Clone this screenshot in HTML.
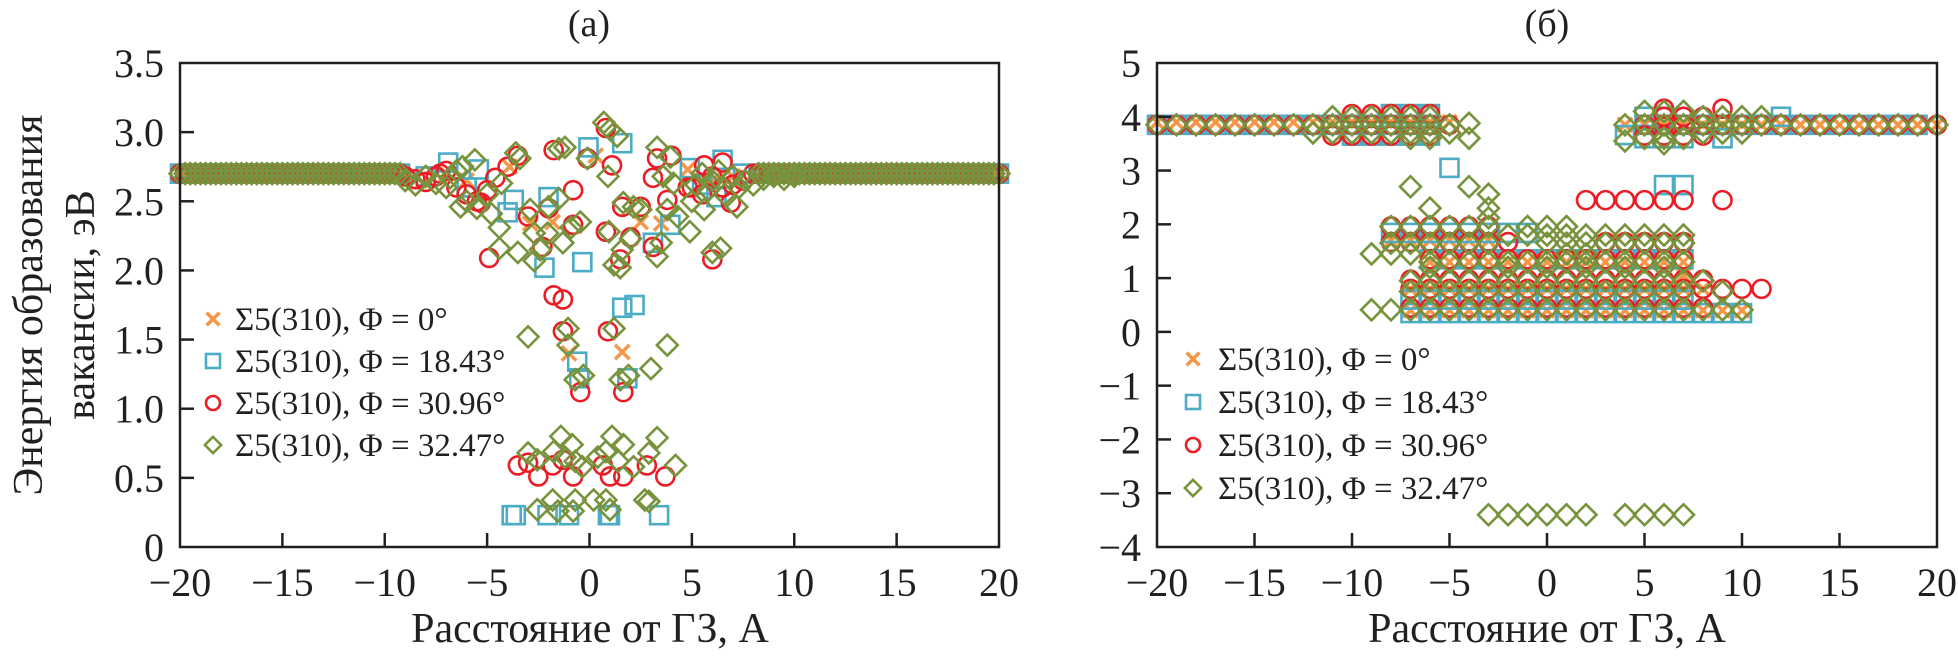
<!DOCTYPE html>
<html><head><meta charset="utf-8"><style>
html,body{margin:0;padding:0;background:#fff;}
svg{display:block;font-family:"Liberation Serif",serif;}
</style></head><body>
<svg id="chart" width="1958" height="656" viewBox="0 0 1958 656" xmlns="http://www.w3.org/2000/svg">
<g id="marksA"></g>
<g id="marksB"></g>
<rect x="180" y="63" width="819" height="484" fill="none" stroke="#231f20" stroke-width="2.5"/>
<rect x="1157" y="63" width="780" height="484" fill="none" stroke="#231f20" stroke-width="2.5"/>
<g id="axes" fill="#231f20" font-size="40"></g>
<text x="589" y="36" font-size="38" text-anchor="middle" fill="#231f20">(a)</text>
<text x="1547" y="36" font-size="38" text-anchor="middle" fill="#231f20">(б)</text>
<text x="590" y="642" font-size="42" text-anchor="middle" fill="#231f20">Расстояние от ГЗ, А</text>
<text x="1547" y="642" font-size="42" text-anchor="middle" fill="#231f20">Расстояние от ГЗ, А</text>
<text transform="translate(42,305) rotate(-90)" font-size="42" text-anchor="middle" fill="#231f20">Энергия образования</text>
<text transform="translate(94,305) rotate(-90)" font-size="42" text-anchor="middle" fill="#231f20">вакансии, эВ</text>
<g id="legends" font-size="33" fill="#231f20"></g>
</svg>
<script>
const aTicksY = ["0","0.5","1.0","1.5","2.0","2.5","3.0","3.5"];
const aTickYVals = [0,0.5,1,1.5,2,2.5,3,3.5];
const xTickVals = [-20,-15,-10,-5,0,5,10,15,20];
const xTickLabels = ["\u221220","\u221215","\u221210","\u22125","0","5","10","15","20"];
const bTickYVals = [-4,-3,-2,-1,0,1,2,3,4,5];
const bTicksY = ["\u22124","\u22123","\u22122","\u22121","0","1","2","3","4","5"];
const seriesLabels = ["\u03a35(310), \u03a6 = 0\u00b0","\u03a35(310), \u03a6 = 18.43\u00b0","\u03a35(310), \u03a6 = 30.96\u00b0","\u03a35(310), \u03a6 = 32.47\u00b0"];

// Panel (a) flat band x positions (y = 2.7)
const aFlatX = [-20,-19.75,-19.5,-19.25,-19,-18.75,-18.5,-18.25,-18,-17.75,-17.5,-17.25,-17,-16.75,-16.5,-16.25,-16,-15.75,-15.5,-15.25,-15,-14.75,-14.5,-14.25,-14,-13.75,-13.5,-13.25,-13,-12.75,-12.5,-12.25,-12,-11.75,-11.5,-11.25,-11,-10.75,-10.5,-10.25,-10,-9.75,-9.5,-9.25,8.25,8.5,8.75,9,9.25,9.5,9.75,10,10.25,10.5,10.75,11,11.25,11.5,11.75,12,12.25,12.5,12.75,13,13.25,13.5,13.75,14,14.25,14.5,14.75,15,15.25,15.5,15.75,16,16.25,16.5,16.75,17,17.25,17.5,17.75,18,18.25,18.5,18.75,19,19.25,19.5,19.75,20];
const aFlatY = 2.7;
const aOrange = [[-2.9,2.34],[-1.8,2.35],[0.3,2.83],[2.5,2.35],[3.5,2.34],[4.8,2.73],[-3.9,2.75],[-1.0,1.40],[1.6,1.41],[-7,2.7],[-6,2.65],[6,2.65],[7,2.68]];
const aBlue = [[-6.9,2.78],[-5.4,2.73],[-3.7,2.51],[-4.0,2.42],[-2.0,2.53],[-2.2,2.02],[-0.35,2.06],[-0.05,2.89],[1.6,2.92],[3.1,2.2],[3.95,2.33],[4.9,2.74],[6.5,2.8],[6.2,2.53],[1.6,1.73],[2.2,1.75],[-0.6,1.34],[-0.5,1.22],[1.85,1.22],[-3.8,0.23],[-3.6,0.23],[-2.05,0.23],[-1.0,0.23],[0.9,0.23],[1.0,0.23],[3.4,0.23],[-8,2.68],[-6,2.6],[5.5,2.62],[7.5,2.7]];
const aRed = [[-7.3,2.7],[-3.5,2.83],[-4.0,2.75],[-4.6,2.67],[-5.3,2.49],[-1.75,2.87],[-0.8,2.58],[-3.0,2.39],[-2.0,2.45],[-0.8,2.33],[-2.3,2.17],[-4.9,2.09],[-0.1,2.81],[0.8,3.03],[1.1,2.76],[0.8,2.28],[1.5,2.08],[2.0,2.24],[3.1,2.67],[3.3,2.81],[4.0,2.83],[3.1,2.17],[3.8,2.51],[4.8,2.6],[5.6,2.76],[6.5,2.78],[6.0,2.08],[6.9,2.49],[1.6,2.46],[2.5,2.46],[-1.75,1.82],[-1.3,1.79],[-1.3,1.56],[0.9,1.56],[-0.45,1.12],[1.65,1.12],[-3.5,0.59],[-3.0,0.61],[-2.5,0.51],[-1.8,0.59],[-1.3,0.63],[-0.8,0.51],[0.65,0.59],[1.0,0.51],[1.65,0.51],[2.8,0.59],[3.7,0.51],[-9,2.68],[-8.5,2.66],[-8,2.64],[-7.5,2.68],[-7,2.72],[-6.5,2.6],[-6,2.55],[-5.5,2.5],[-5,2.58],[5,2.6],[5.5,2.55],[6,2.68],[6.5,2.6],[7,2.62],[7.5,2.65],[8,2.7]];
const aGreen = [[0.7,3.07],[1.0,3.02],[1.35,2.97],[-1.5,2.88],[-1.2,2.89],[-3.6,2.85],[-3.4,2.81],[-0.1,2.81],[0.9,2.68],[3.3,2.89],[3.95,2.82],[-5.6,2.8],[-6.8,2.67],[-6.3,2.46],[-4.8,2.41],[-4.4,2.31],[-4.3,2.63],[-2.9,2.44],[-1.5,2.52],[-2.0,2.46],[-0.45,2.35],[-0.9,2.31],[-2.7,2.27],[-2.05,2.27],[-1.3,2.2],[-3.5,2.13],[-4.4,2.16],[-2.7,2.07],[-2.4,2.15],[0.95,2.28],[1.65,2.49],[2.15,2.46],[2.5,2.44],[2.0,2.23],[1.6,2.15],[1.2,2.04],[1.5,2.02],[3.5,2.2],[3.3,2.1],[3.8,2.44],[4.3,2.39],[4.9,2.28],[5.6,2.44],[7.2,2.46],[6.0,2.13],[6.4,2.16],[3.6,2.68],[4.1,2.63],[-3.0,1.52],[-1.05,1.58],[-1.05,1.46],[-0.7,1.21],[-0.3,1.24],[1.2,1.58],[1.5,1.21],[1.9,1.24],[3.0,1.29],[3.8,1.46],[-3.0,0.68],[-2.55,0.63],[-1.75,0.69],[-1.4,0.8],[-1.2,0.65],[-0.85,0.74],[-0.7,0.62],[-0.35,0.58],[0.4,0.65],[0.8,0.69],[1.1,0.8],[1.4,0.62],[1.65,0.74],[2.15,0.58],[2.9,0.68],[3.3,0.79],[4.2,0.59],[-2.55,0.27],[-1.8,0.34],[-1.55,0.26],[-0.8,0.26],[-0.7,0.34],[0.2,0.34],[0.8,0.34],[1.0,0.27],[2.7,0.34],[2.9,0.33],[-9,2.65],[-8.5,2.62],[-8,2.68],[-7.5,2.63],[-7,2.6],[-6.5,2.72],[-6,2.5],[-5.5,2.45],[-5,2.55],[-6.2,2.75],[5,2.5],[5.2,2.62],[5.5,2.7],[5.8,2.58],[6,2.65],[6.3,2.72],[6.6,2.55],[7,2.68],[7.3,2.6],[7.6,2.65],[8,2.62],[8.5,2.66],[9,2.68],[9.5,2.66],[10,2.68]];

// Panel (b) rows: [y, x-list]
const bOrange = [[3.9,[-20,-19,-18,-17,-16,-15,-14,-13,-12,-11,-10,-9,-8,-7,-6,-5]],[3.85,[4,5,6,7,8,9,10,11,12,13,14,15,16,17,18,19,20]],[0.4,[-7,-6,-5,-4,-3,-2,-1,0,1,2,3,4,5,6,7,8,9,10]],[0.8,[-7,-6,-5,-4,-3,-2,-1,0,1,2,3,4,5,6,7,8]],[1.3,[-6,-5,-4,-3,-2,-1,0,1,2,3,4,5,6,7]],[1.05,[7]],[1.7,[-8,-7,-6,-5,-4,-3]]];
const bBlue = [[3.85,[-20,-19,-18,-17,-16,-15,-14,-13,-12,-11,-10,-9,-8,-7,-6]],[4.05,[-8,-7,-6]],[3.65,[-10,-9,-8,-7,-6]],[3.05,[-5]],[3.66,[4]],[3.85,[5,6,7,8,9,10,11,12,13,14,15,16,17,18,19]],[4.0,[5,6,12]],[3.6,[5,6,7,9]],[2.73,[6,7]],[1.84,[-8,-7,-6,-5,-4,-3,-2,-1]],[1.35,[-6,-5,-4,-3,-2,-1,0,1,2,3,4,5,6,7]],[0.6,[-7,-6,-5,-4,-3,-2,-1,0,1,2,3,4,5,6,7]],[0.35,[-7,-6,-5,-4,-3,-2,-1,0,1,2,3,4,5,6,7,8,9,10]]];
const bRed = [[3.85,[-20,-19,-18,-17,-16,-15,-14,-13,-12,-11,-10,-9,-8,-7,-6,-5]],[3.65,[-11,-10,-9,-8,-7,-6]],[4.05,[-10,-9,-8,-7,-6]],[3.85,[5,6,7,8,9,10,11,12,13,14,15,16,17,18,19,20]],[4.15,[6,9]],[3.65,[5,6,7,8]],[4.0,[6,7,8]],[2.45,[2,3,4,5,6,7,9]],[1.96,[-8,-7,-6,-5,-4,-3]],[1.67,[-8,-7,-6,-5,-4,-3,-2,3,4,5,6,7]],[1.35,[-6,-5,-4,-3,-2,-1,0,1,2,3,4,5,6,7]],[0.97,[-7,-6,-5,-4,-3,-2,-1,0,1,2,3,4,5,6,7,8]],[0.8,[-7,-6,-5,-4,-3,-2,-1,0,1,2,3,4,5,6,7,8,9,10,11]],[0.45,[-7,-6,-5,-4,-3,-2,-1,0,1,2,3,4,5,6,7,8]]];
const bGreen = [[3.85,[-20,-19,-18,-17,-16,-15,-14,-13,-12,-11,-10,-9,-8,-7,-6,-5]],[3.7,[-12,-11,-10,-9,-8,-7,-6,-5]],[4.0,[-11,-10,-9,-8,-7,-6]],[3.6,[-7,-6,-4]],[3.88,[-4]],[3.85,[4,5,6,7,8,9,10,11,12,13,14,15,16,17,18,19,20]],[3.6,[5,6,7]],[4.1,[5,6,7]],[3.5,[6]],[3.7,[8,9,10]],[4.0,[8,9,10,11]],[3.55,[4]],[2.7,[-7,-4]],[2.56,[-3]],[2.3,[-6,-3]],[2.12,[-3]],[1.96,[-8,-7,-6,-5,-4,-3,-1,0,1]],[1.8,[-2,-1,0,1,2,3,4,5,6,7]],[1.65,[-8,-7,-6,-5,-4,-3,0,1,2,3,4,5,6,7]],[1.45,[-9,-8,-7,1,2]],[1.3,[-6,-5,-4,-3,-2,-1,0,1,2,3,4,5,6,7]],[1.2,[-6,-2,0,2,4,6]],[0.95,[-7,-6,-5,-4,-3,-2,-1,0,1,2,3,4,5,6,7,8]],[0.75,[-7,-6,-5,-4,-3,-2,-1,0,1,2,3,4,5,6,7,9]],[0.41,[-9,-8,-7,-6,-5,-4,-3,-2,-1,0,1,2,3,4,5,6,7,8,9,10]],[-3.4,[-3,-2,-1,0,1,2,4,5,6,7]]];

const NS = "http://www.w3.org/2000/svg";
function xa(v){return 180+(v+20)/40*819;}
function ya(v){return 547-v/3.5*484;}
function xb(v){return 1157+(v+20)/40*780;}
function yb(v){return 547-(v+4)/9*484;}
const COL = ["#f79646","#4bacc6","#ec1c24","#77933c"];

function mk(tag){return document.createElementNS(NS,tag);}
function marker(parent,kind,cx,cy,s){
  let el;
  if(kind===0){
    el=mk("path");
    el.setAttribute("d",`M${cx-s*0.4},${cy-s*0.4}L${cx+s*0.4},${cy+s*0.4}M${cx-s*0.4},${cy+s*0.4}L${cx+s*0.4},${cy-s*0.4}`);
    el.setAttribute("stroke",COL[0]);el.setAttribute("stroke-width","3.5");
    
  } else if(kind===1){
    el=mk("rect");
    el.setAttribute("x",cx-s/2);el.setAttribute("y",cy-s/2);el.setAttribute("width",s);el.setAttribute("height",s);
    el.setAttribute("fill","none");el.setAttribute("stroke",COL[1]);el.setAttribute("stroke-width","2.6");
    
  } else if(kind===2){
    el=mk("circle");
    el.setAttribute("cx",cx);el.setAttribute("cy",cy);el.setAttribute("r",s/2);
    el.setAttribute("fill","none");el.setAttribute("stroke",COL[2]);el.setAttribute("stroke-width","2.6");
    
  } else {
    el=mk("path");
    const h=s*0.58;
    el.setAttribute("d",`M${cx},${cy-h}L${cx+h},${cy}L${cx},${cy+h}L${cx-h},${cy}Z`);
    el.setAttribute("fill","none");el.setAttribute("stroke",COL[3]);el.setAttribute("stroke-width","2.6");
    
  }
  
  parent.appendChild(el);
}
const gA=document.getElementById("marksA"), gB=document.getElementById("marksB");
const aSeries=[aOrange,aBlue,aRed,aGreen];
aSeries.forEach((ser,k)=>{
  aFlatX.forEach(x=>marker(gA,k,xa(x),ya(aFlatY),18));
  ser.forEach(p=>marker(gA,k,xa(p[0]),ya(p[1]),18));
});
const bSeries=[bOrange,bBlue,bRed,bGreen];
bSeries.forEach((ser,k)=>{
  ser.forEach(row=>row[1].forEach(x=>marker(gB,k,xb(x),yb(row[0]),18)));
});

const gAx=document.getElementById("axes");
function line(x1,y1,x2,y2,name){
  const l=mk("line");
  l.setAttribute("x1",x1);l.setAttribute("y1",y1);l.setAttribute("x2",x2);l.setAttribute("y2",y2);
  l.setAttribute("stroke","#231f20");l.setAttribute("stroke-width","2.5");
  
  
  gAx.appendChild(l);
}
function txt(x,y,s,anchor,name){
  const t=mk("text");
  t.setAttribute("x",x);t.setAttribute("y",y);t.setAttribute("text-anchor",anchor);
  t.textContent=s;
  
  
  gAx.appendChild(t);
}
aTickYVals.forEach((v,i)=>{
  if(v>0&&v<3.5) line(180,ya(v),194,ya(v),"a-y-tick");
  txt(164,ya(v)+14,aTicksY[i],"end","a-y-tick-label");
});
xTickVals.forEach((v,i)=>{
  if(v>-20&&v<20){ line(xa(v),547,xa(v),533,"a-x-tick"); line(xb(v),547,xb(v),533,"b-x-tick"); }
  txt(xa(v),596,xTickLabels[i],"middle","a-x-tick-label");
  txt(xb(v),596,xTickLabels[i],"middle","b-x-tick-label");
});
bTickYVals.forEach((v,i)=>{
  if(v>-4&&v<5) line(1157,yb(v),1171,yb(v),"b-y-tick");
  txt(1141,yb(v)+14,bTicksY[i],"end","b-y-tick-label");
});

const gL=document.getElementById("legends");
function legend(mx,tx,ys){
  ys.forEach((y,k)=>{
    const g=mk("g");
    
    
    gL.appendChild(g);
    marker(g,k,mx,y,k===0?16:14);
    const t=mk("text");
    t.setAttribute("x",tx);t.setAttribute("y",y+11);
    t.textContent=seriesLabels[k];
    
    
    g.appendChild(t);
  });
}
legend(213,235,[319,361,403,445]);
legend(1193,1218,[359,402,445,488]);
</script>
</body></html>
